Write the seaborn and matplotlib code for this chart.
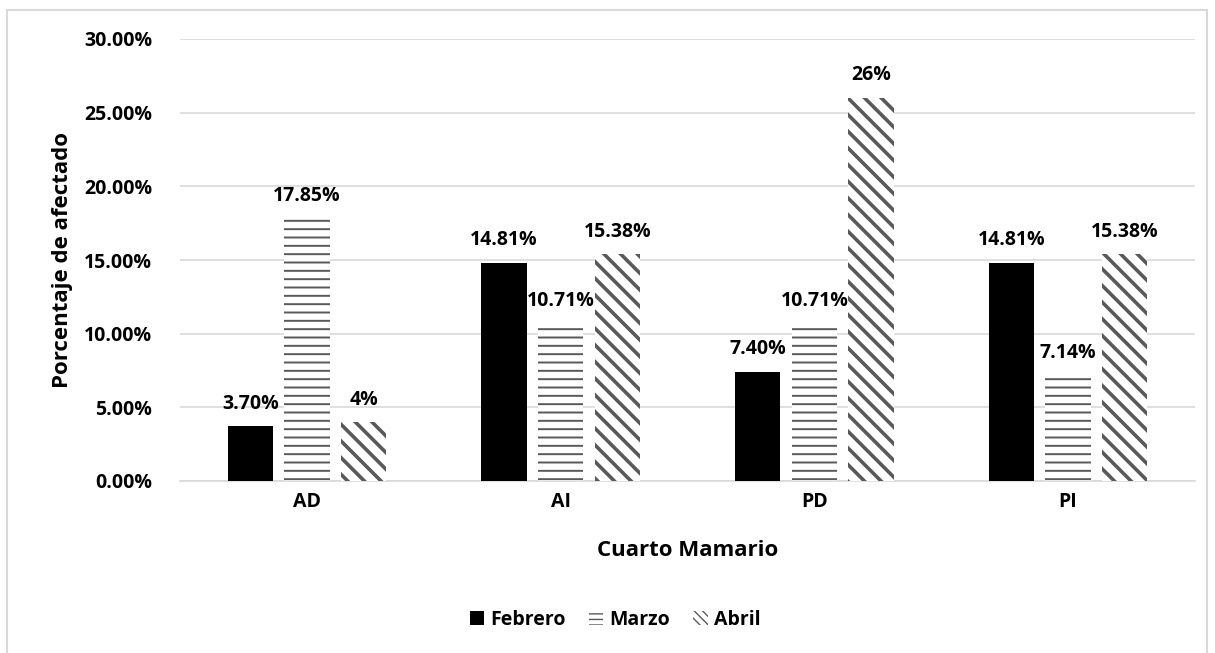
import matplotlib
matplotlib.use("Agg")
import matplotlib.pyplot as plt
from matplotlib.patches import Rectangle, Patch
from matplotlib.ticker import FuncFormatter
import seaborn as sns
import pandas as pd

# Data
cuartos = ["AD", "AI", "PD", "PI"]
meses = ["Febrero", "Marzo", "Abril"]
febrero = [3.70, 14.81, 7.40, 14.81]
marzo = [17.85, 10.71, 10.71, 7.14]
abril = [4.0, 15.38, 26.0, 15.38]
etiquetas_febrero = ["3.70%", "14.81%", "7.40%", "14.81%"]
etiquetas_marzo = ["17.85%", "10.71%", "10.71%", "7.14%"]
etiquetas_abril = ["4%", "15.38%", "26%", "15.38%"]
yticks = [0, 5, 10, 15, 20, 25, 30]

df = pd.DataFrame({
    "Cuarto": cuartos * 3,
    "Mes": [m for m in meses for _ in cuartos],
    "Valor": febrero + marzo + abril,
})

sns.set_theme(style="white")
plt.rcParams["font.family"] = ["Open Sans", "DejaVu Sans"]
plt.rcParams["font.weight"] = "bold"
plt.rcParams["text.color"] = "black"
plt.rcParams["axes.labelcolor"] = "black"
plt.rcParams["xtick.color"] = "black"
plt.rcParams["ytick.color"] = "black"

fig = plt.figure(figsize=(12.15, 6.53), dpi=100)
ax = fig.add_axes([180 / 1215, 1 - 481 / 653, (1195 - 180) / 1215, (481 - 39) / 653])

gris = "#595959"
sns.barplot(data=df, x="Cuarto", y="Valor", hue="Mes", hue_order=meses,
            palette=["black", "white", "white"], width=0.67, gap=0.2,
            ax=ax, legend=False, zorder=3)

estilos = [("", "black", 0), ("--", gris, 1.4), ("\\\\", gris, 2.6)]
for cont, (hatch, color, hlw) in zip(ax.containers, estilos):
    for bar in cont:
        bar.set_edgecolor(color)
        bar.set_linewidth(0)
        if hatch:
            bar.set_hatch(hatch)
            try:
                bar.set_hatch_linewidth(hlw)
            except AttributeError:
                plt.rcParams["hatch.linewidth"] = hlw

txt = dict(fontsize=14, fontweight="bold", color="black")
for cont, labs in zip(ax.containers, [etiquetas_febrero, etiquetas_marzo, etiquetas_abril]):
    ax.bar_label(cont, labels=labs, padding=9, **txt)

ax.set_ylim(0, 30)
ax.set_xlim(-0.5, 3.5)
ax.set_yticks(yticks)
ax.yaxis.set_major_formatter(FuncFormatter(lambda v, p: f"{v:.2f}%"))
ax.tick_params(axis="x", length=0, labelsize=14, pad=8)
ax.tick_params(axis="y", length=0, labelsize=14, pad=20)
for lab in ax.get_xticklabels() + ax.get_yticklabels():
    lab.set_fontweight("bold")
ax.grid(axis="y", color="#d9d9d9", linewidth=1.2, zorder=0)
ax.set_axisbelow(True)
for s in ["top", "right", "left"]:
    ax.spines[s].set_visible(False)
ax.spines["bottom"].set_color("#d9d9d9")
ax.spines["bottom"].set_linewidth(1.2)

ax.set_xlabel("Cuarto Mamario", fontsize=16, fontweight="bold", labelpad=20)
ax.set_ylabel("Porcentaje de afectado", fontsize=16, fontweight="bold", labelpad=8)

handles = [
    Patch(facecolor="black", edgecolor="black", linewidth=0),
    Patch(facecolor="white", edgecolor=gris, hatch="---", linewidth=0),
    Patch(facecolor="white", edgecolor=gris, hatch="\\\\\\\\", linewidth=0),
]
fig.legend(handles, meses, loc="center", bbox_to_anchor=(615 / 1215, 1 - 620 / 653),
           ncol=3, frameon=False, prop={"weight": "bold", "size": 14},
           handlelength=0.75, handleheight=0.75, handletextpad=0.3, columnspacing=1.2)

fig.patches.append(Rectangle((7 / 1215, -0.05), 1200 / 1215, 1.05 - 10 / 653,
                             transform=fig.transFigure, fill=False,
                             edgecolor="#d9d9d9", linewidth=1.5))

fig.savefig("out.png", dpi=100)
